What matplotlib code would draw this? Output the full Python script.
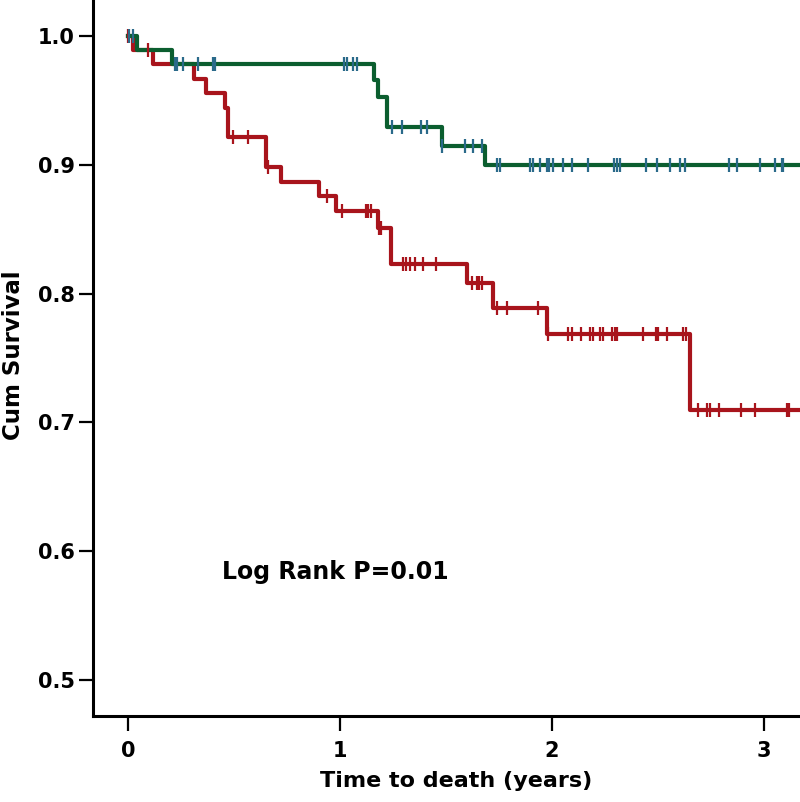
import numpy as np
import matplotlib
matplotlib.use('Agg')
import matplotlib.pyplot as plt

# step curves: event time (years) -> survival level after that time
green_t = [0, 0.041, 0.21, 1.16, 1.18, 1.22, 1.48, 1.685]
green_s = [1.0, 0.989, 0.978, 0.966, 0.953, 0.929, 0.915, 0.900]

red_t = [0, 0.024, 0.118, 0.31, 0.37, 0.458, 0.47, 0.65, 0.72, 0.90, 0.98,
         1.18, 1.24, 1.60, 1.72, 1.976, 2.65]
red_s = [1.0, 0.989, 0.978, 0.967, 0.956, 0.944, 0.922, 0.898, 0.887, 0.876,
         0.864, 0.851, 0.823, 0.808, 0.789, 0.769, 0.710]

# censored times
green_cens = [0.005, 0.024,
              0.222, 0.231, 0.259, 0.330, 0.401, 0.410, 1.019, 1.033, 1.061, 1.080,
              1.245, 1.292, 1.382, 1.410,
              1.482, 1.590, 1.627, 1.670,
              1.741, 1.755, 1.896, 1.910, 1.943, 1.976, 1.986, 2.005, 2.052, 2.094,
              2.170, 2.292, 2.307, 2.321, 2.443, 2.495, 2.557, 2.604, 2.627, 2.835,
              2.873, 2.981, 3.052, 3.085, 3.090]
red_cens = [0.0, 0.094, 0.495, 0.566, 0.660, 0.939,
            1.009, 1.123, 1.132, 1.146, 1.185, 1.195,
            1.297, 1.311, 1.330, 1.354, 1.392, 1.453,
            1.623, 1.646, 1.656, 1.670,
            1.741, 1.788, 1.934,
            1.981, 2.075, 2.094, 2.137, 2.179, 2.193, 2.226, 2.241, 2.283, 2.297,
            2.307, 2.429, 2.491, 2.500, 2.542, 2.618, 2.632,
            2.689, 2.731, 2.745, 2.788, 2.892, 2.958, 3.108, 3.118]

x_ticks = [0, 1, 2, 3]
y_ticks = [0.5, 0.6, 0.7, 0.8, 0.9, 1.0]
t_end = 3.17

green_c = '#0b5e2f'
green_mark = '#2a6a8a'
red_c = '#a8141c'


def level_at(times, surv, t):
    i = np.searchsorted(times, t, side='right') - 1
    return np.array(surv)[i]


plt.rcParams['font.family'] = 'DejaVu Sans'
plt.rcParams['font.weight'] = 'bold'

fig = plt.figure(figsize=(8, 8.02), dpi=100)
ax = fig.add_axes([93 / 800, 86 / 802, 707 / 800, 716 / 802])

ax.step(red_t + [t_end], red_s + [red_s[-1]], where='post', color=red_c, lw=3, zorder=2)
ax.step(green_t + [t_end], green_s + [green_s[-1]], where='post', color=green_c, lw=3, zorder=3)

ax.plot(red_cens, level_at(red_t, red_s, red_cens), ls='none', marker='|',
        ms=10.5, mew=1.6, color=red_c, zorder=4)
ax.plot(green_cens, level_at(green_t, green_s, green_cens), ls='none', marker='|',
        ms=10.5, mew=1.6, color=green_mark, zorder=4)

ax.text(0.443, 0.584, 'Log Rank P=0.01', fontsize=17, fontweight='bold', va='center', ha='left')

ax.set_xlim(-0.165, 3.17)
ax.set_ylim(0.472, 1.028)
ax.set_xticks(x_ticks)
ax.set_yticks(y_ticks)
ax.set_xticklabels([str(v) for v in x_ticks])
ax.set_yticklabels([f'{v:.1f}' for v in y_ticks])

for s in ['top', 'right']:
    ax.spines[s].set_visible(False)
for s in ['left', 'bottom']:
    ax.spines[s].set_linewidth(2.2)

ax.tick_params(axis='x', length=11, width=1.6, pad=7, labelsize=15)
ax.tick_params(axis='y', length=10, width=1.6, pad=3, labelsize=15)

ax.set_xlabel('Time to death (years)', fontsize=16, fontweight='bold')
ax.set_ylabel('Cum Survival', fontsize=16.5, fontweight='bold')
ax.xaxis.set_label_coords((456 - 93) / 707, -(771 - 716) / 716)
ax.yaxis.set_label_coords(-(93 - 25) / 707, (716 - 355) / 716)

fig.savefig('out.png', dpi=100)
